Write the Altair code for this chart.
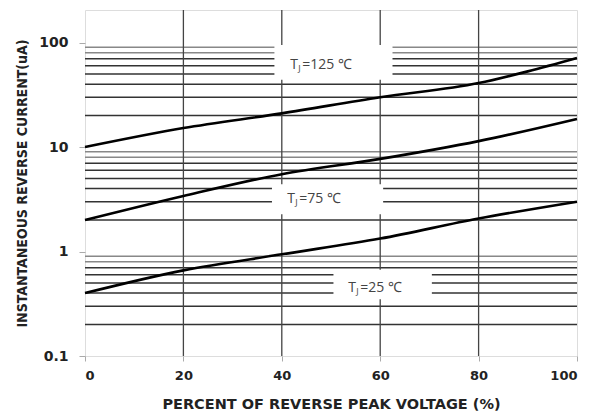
import altair as alt
import pandas as pd

# ---- data ----
x_pts = [0, 20, 40, 60, 80, 90, 100]
i_125 = [10, 15.2, 21, 30, 41, 53, 71]
x_pts2 = [0, 20, 40, 60, 80, 100]
i_75 = [2.0, 3.4, 5.5, 7.7, 11.4, 18.6]
i_25 = [0.40, 0.66, 0.94, 1.33, 2.07, 3.0]

x_ticks = [0, 20, 40, 60, 80, 100]
y_ticks = [0.1, 1, 10, 100]
minor_dark = [0.2, 0.3, 0.4, 0.5, 0.6, 0.7, 2, 3, 4, 5, 6, 7, 20, 30, 40, 50, 60, 70]
minor_light = [0.8, 0.9, 8, 9, 80, 90]
v_grid = [20, 40, 60, 80]

label_names = ["125", "75", "25"]
label_x = [41.7, 41.1, 53.5]
label_y = [61.5, 3.15, 0.45]
label_txt = ["=125 ℃", "=75 ℃", "=25 ℃"]
box_x1 = [38.5, 38.0, 50.5]
box_x2 = [62.5, 60.6, 70.5]
box_y1 = [44, 2.27, 0.35]
box_y2 = [95, 4.4, 0.67]

# ---- tables ----
lines_df = pd.concat([
    pd.DataFrame({"x": x_pts, "y": i_125, "s": "125"}),
    pd.DataFrame({"x": x_pts2, "y": i_75, "s": "75"}),
    pd.DataFrame({"x": x_pts2, "y": i_25, "s": "25"}),
])
grid_dark_df = pd.DataFrame({"y": minor_dark})
grid_light_df = pd.DataFrame({"y": minor_light})
vgrid_df = pd.DataFrame({"x": v_grid})
box_df = pd.DataFrame({"x1": box_x1, "x2": box_x2, "y1": box_y1, "y2": box_y2})
lab_df = pd.DataFrame({"x": label_x, "y": label_y, "t": label_txt})

xs = alt.Scale(domain=[0, 100], nice=False)
ys = alt.Scale(type="log", domain=[0.1, 205], nice=False)

x_axis = alt.Axis(values=x_ticks, grid=False, domain=False, tickSize=5, tickColor="#aaa",
                  labelFont="DejaVu Sans", labelFontWeight="bold", labelFontSize=13,
                  labelColor="#222", labelPadding=8,
                  title="PERCENT OF REVERSE PEAK VOLTAGE (%)", titleFont="DejaVu Sans",
                  titleFontSize=14.5, titleFontWeight="bold", titleColor="#222",
                  titleY=48, titleBaseline="middle")
y_axis = alt.Axis(values=y_ticks, grid=False, domain=False, tickSize=6, tickColor="#aaa",
                  labelExpr="datum.value < 1 ? '0.1' : format(datum.value, 'd')",
                  labelFont="DejaVu Sans", labelFontWeight="bold", labelFontSize=14,
                  labelColor="#222", labelPadding=11,
                  title="INSTANTANEOUS REVERSE CURRENT(uA)", titleFont="DejaVu Sans Condensed",
                  titleFontSize=14, titleFontWeight="bold", titleColor="#222",
                  titleX=-63, titleBaseline="middle")

base = alt.Chart(lines_df)

axes_layer = base.mark_point(opacity=0).encode(
    x=alt.X("x:Q", scale=xs, axis=x_axis),
    y=alt.Y("y:Q", scale=ys, axis=y_axis),
)

g_dark = alt.Chart(grid_dark_df).mark_rule(color="#333", strokeWidth=1.5).encode(
    y=alt.Y("y:Q", scale=ys))
g_light = alt.Chart(grid_light_df).mark_rule(color="#888", strokeWidth=1.5).encode(
    y=alt.Y("y:Q", scale=ys))
g_vert = alt.Chart(vgrid_df).mark_rule(color="#444", strokeWidth=1.3).encode(
    x=alt.X("x:Q", scale=xs))

boxes = alt.Chart(box_df).mark_rect(color="white").encode(
    x=alt.X("x1:Q", scale=xs), x2="x2:Q",
    y=alt.Y("y1:Q", scale=ys), y2="y2:Q")

curves = base.mark_line(color="black", strokeWidth=2.6, interpolate="monotone").encode(
    x=alt.X("x:Q", scale=xs), y=alt.Y("y:Q", scale=ys), detail="s:N")

lab_font = "Open Sans"
t_T = alt.Chart(lab_df).mark_text(text="T", align="left", baseline="middle",
                                  font=lab_font, fontSize=14, color="#444").encode(
    x=alt.X("x:Q", scale=xs), y=alt.Y("y:Q", scale=ys))
t_J = alt.Chart(lab_df).mark_text(text="J", align="left", baseline="middle", dx=8, dy=4,
                                  font=lab_font, fontSize=9, color="#444").encode(
    x=alt.X("x:Q", scale=xs), y=alt.Y("y:Q", scale=ys))
t_rest = alt.Chart(lab_df).mark_text(align="left", baseline="middle", dx=12,
                                     font=lab_font, fontSize=14, color="#444").encode(
    x=alt.X("x:Q", scale=xs), y=alt.Y("y:Q", scale=ys), text="t:N")

chart = alt.layer(axes_layer, g_dark, g_light, g_vert, boxes, curves, t_T, t_J, t_rest).properties(
    width=492, height=346,
    autosize=alt.AutoSizeParams(type="none"),
    padding={"left": 77, "top": 2, "right": 10, "bottom": 56},
).configure_view(stroke="#999", strokeWidth=1.5).configure(background="white")

chart.save("out.html", embed_options={"renderer": "svg", "actions": False})
